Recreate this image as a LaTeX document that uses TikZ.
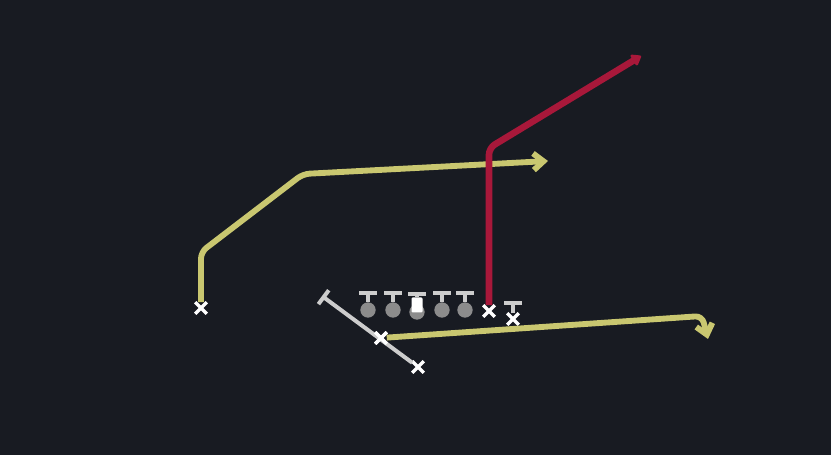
\documentclass[tikz,border=0pt]{standalone}
\usetikzlibrary{arrows.meta,shapes.misc}

\definecolor{campo}{RGB}{24,27,34}
\definecolor{amarillo}{RGB}{201,199,112}
\definecolor{rojo}{RGB}{168,24,58}
\definecolor{gris}{RGB}{205,205,205}
\definecolor{grisosc}{RGB}{140,140,140}

\begin{document}
\begin{tikzpicture}[x=0.03cm,y=-0.03cm,
  jugador/.style={draw=white,cross out,line width=3pt,
    minimum size=0.24cm,inner sep=0pt},
  linea/.style={circle,fill=grisosc,minimum size=0.46cm,inner sep=0pt},
  centro/.style={rectangle,rounded corners=1pt,fill=white,
    minimum width=0.33cm,minimum height=0.45cm,inner sep=0pt},
  ruta/.style={line width=5pt,rounded corners=0.2cm},
  bloqueo/.style={draw=gris,line width=3.4pt,-{Bar[width=0.52cm]}}]
  \fill[campo] (0,0) rectangle (831,455);

  % linea ofensiva
  \foreach \i/\px in {1/368,2/393,4/442,5/465} {
    \node[linea] (l\i) at (\px,310) {};
    \draw[bloqueo] (l\i.north) -- ++(0,-11);
  }
  \node[linea] (l3) at (417,312) {};
  \node[centro] (c) at (417,305) {};
  \draw[bloqueo] (c.north) -- ++(0,-5);

  % jugadores
  \node[jugador] (wr) at (201,308) {};
  \node[jugador] (sl) at (489,311) {};
  \node[jugador] (te) at (513,319) {};
  \node[jugador] (qb) at (381,338) {};
  \node[jugador] (rb) at (418,367) {};

  % rutas
  \coordinate (wr1) at (201,252);
  \coordinate (wr2) at (303,174);
  \coordinate (wr3) at (548,161);
  \draw[ruta,amarillo,-{Straight Barb[length=0.3cm,width=0.5cm]}]
    (wr) -- (wr1) -- (wr2) -- (wr3);

  \coordinate (sl1) at (489,148);
  \coordinate (sl2) at (641,56);
  \draw[ruta,rojo,line width=5.6pt,-{Triangle[length=0.3cm,width=0.42cm,round]}]
    (sl) -- (sl1) -- (sl2);

  \coordinate (qb1) at (702,316);
  \coordinate (qb2) at (708,339);
  \draw[ruta,amarillo,-{Straight Barb[length=0.3cm,width=0.5cm]}]
    (qb) -- (qb1) -- (qb2);

  \coordinate (rb1) at (322,296);
  \draw[bloqueo] (rb) -- (rb1);
  \draw[bloqueo] (te.north) -- ++(0,-12);

  % cruces encima
  \node[jugador] at (qb) {};
\end{tikzpicture}
\end{document}
